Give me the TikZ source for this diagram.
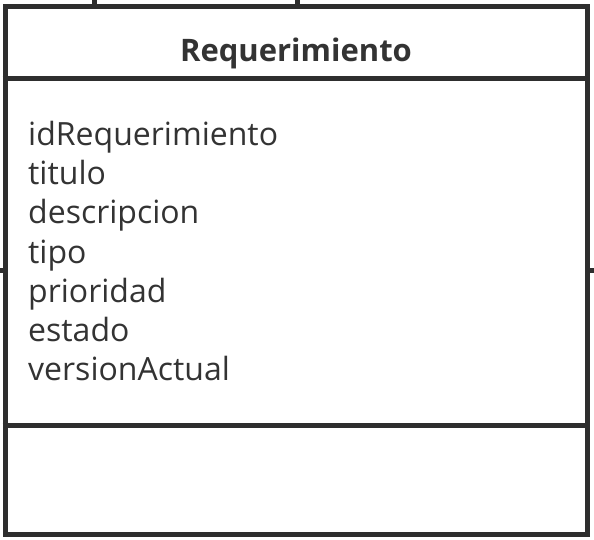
\documentclass[tikz,border=0pt]{standalone}
\usepackage{fontspec}
\setmainfont{Open Sans}

\definecolor{linegray}{HTML}{2E2E2E}
\definecolor{textgray}{HTML}{333333}

\tikzset{
	classbox/.style={draw=linegray,line width=5pt,inner sep=0pt,minimum width=582pt,minimum height=528pt},
	attr/.style={anchor=base west,inner sep=0pt,text=textgray,font=\fontsize{32}{38}\selectfont},
}

\begin{document}
\begin{tikzpicture}[x=1pt,y=-1pt]
	\useasboundingbox (0,0) rectangle (594,539);
	\node[classbox] (box) at (296,270) {};
	% compartment lines
	\coordinate (hdr) at (0,78);
	\coordinate (ops) at (0,425);
	\draw[linegray,line width=5pt] (box.west |- hdr) -- (box.east |- hdr);
	\draw[linegray,line width=5pt] (box.west |- ops) -- (box.east |- ops);
	% cut connectors
	\coordinate (upA) at (94,-5);
	\coordinate (upB) at (297,-5);
	\coordinate (sideL) at (-5,270);
	\coordinate (sideR) at (599,270);
	\draw[linegray,line width=5pt] (upA) -- (upA |- box.north);
	\draw[linegray,line width=5pt] (upB) -- (upB |- box.north);
	\draw[linegray,line width=5pt] (sideL) -- (sideL -| box.west);
	\draw[linegray,line width=5pt] (sideR) -- (sideR -| box.east);
	% texts
	\node[anchor=base,inner sep=0pt,text=textgray,font=\fontsize{31}{36}\selectfont\bfseries] (title) at (296,61) {Requerimiento};
	\node[attr] (idReq) at (28,145) {idRequerimiento};
	\node[attr] (titulo) at (28,184) {titulo};
	\node[attr] (descripcion) at (28,223) {descripcion};
	\node[attr] (tipo) at (28,263) {tipo};
	\node[attr] (prioridad) at (28,302) {prioridad};
	\node[attr] (estado) at (28,341) {estado};
	\node[attr] (version) at (28,380) {versionActual};
\end{tikzpicture}
\end{document}
